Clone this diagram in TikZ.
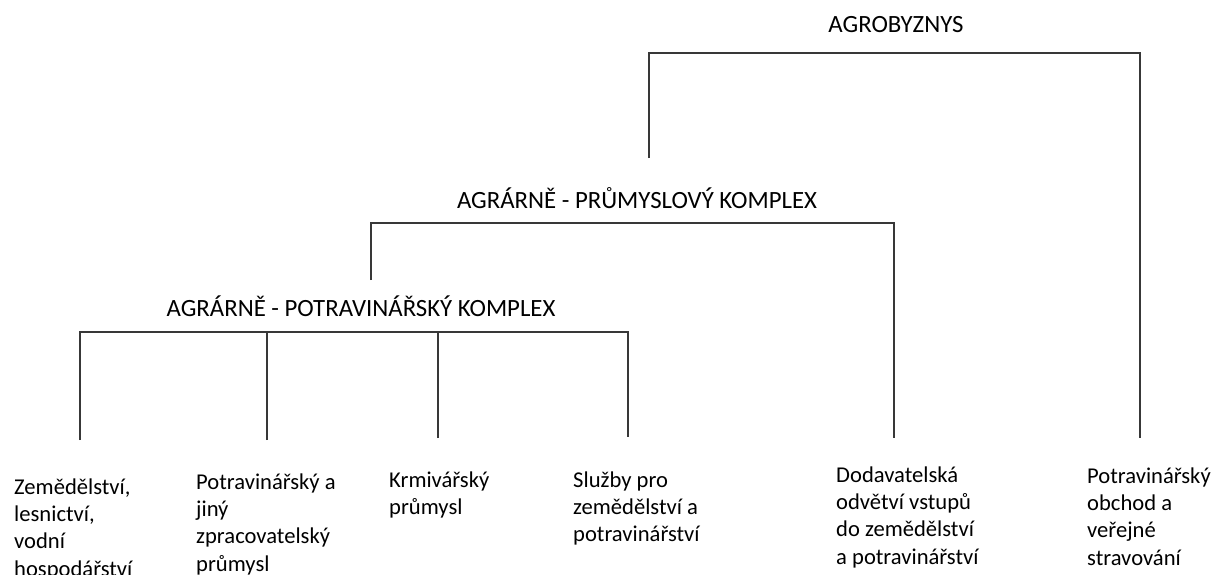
\documentclass[tikz,border=0pt]{standalone}
\usepackage{fontspec}
\setmainfont{Carlito}
\newcommand{\leaftext}[1]{\begin{tabular}[t]{@{}l@{}}#1\end{tabular}}
\begin{document}
\begin{tikzpicture}[x=1pt,y=-1pt,
  link/.style={draw=black!78,line width=1.3pt},
  title/.style={font=\fontsize{24.8}{30}\selectfont,inner sep=0pt,anchor=base},
  leaf/.style={font=\fontsize{22.6}{27.4}\selectfont,inner sep=0pt,anchor=base west}]
\useasboundingbox (0,0) rectangle (1218,574);

% level titles
\node[title] (agro) at (896,32) {AGROBYZNYS};
\node[title] (apk)  at (637,208) {AGRÁRNĚ - PRŮMYSLOVÝ KOMPLEX};
\node[title] (apot) at (361,316) {AGRÁRNĚ - POTRAVINÁŘSKÝ KOMPLEX};

% branch ends
\coordinate (agroL) at (649,158);
\coordinate (apkL)  at (371,280);

% leaves (anchored at the baseline of their first line)
\node[leaf] (zem)  at (14,494)   {\leaftext{Zemědělství,\\lesnictví,\\vodní\\hospodářství}};
\node[leaf] (potr) at (196,489)  {\leaftext{Potravinářský a\\jiný\\zpracovatelský\\průmysl}};
\node[leaf] (krm)  at (389,487)  {\leaftext{Krmivářský\\průmysl}};
\node[leaf] (sluz) at (573,487)  {\leaftext{Služby pro\\zemědělství a\\potravinářství}};
\node[leaf] (dod)  at (836,482)  {\leaftext{Dodavatelská\\odvětví vstupů\\do zemědělství\\a potravinářství}};
\node[leaf] (obch) at (1087,483) {\leaftext{Potravinářský\\obchod a\\veřejné\\stravování}};

% leg ends above the leaves
\coordinate (zemT)  at (80,440);
\coordinate (potrT) at (267,440);
\coordinate (krmT)  at (438,438);
\coordinate (sluzT) at (628,437);
\coordinate (dodT)  at (894,438);
\coordinate (obchT) at (1140,438);

% brackets
\draw[link] (agroL) -- (649,53) -| (obchT);
\draw[link] (apkL) -- (371,223) -| (dodT);
\draw[link] (zemT) -- (80,332) -| (sluzT);
\draw[link] (potrT) -- (267,332);
\draw[link] (krmT) -- (438,332);
\end{tikzpicture}
\end{document}
